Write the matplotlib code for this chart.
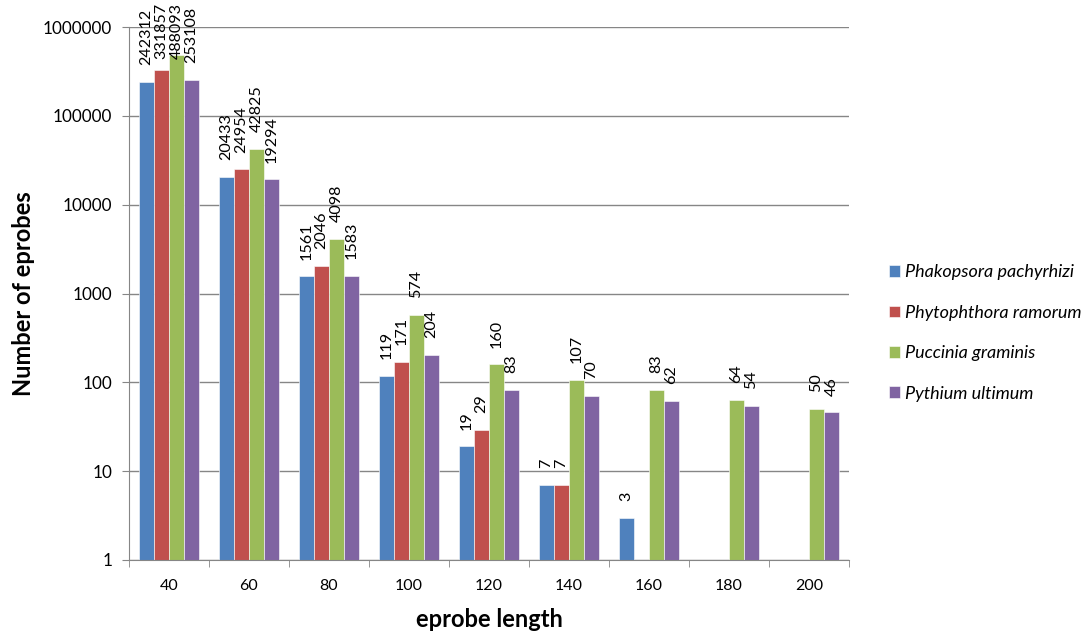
import matplotlib.pyplot as plt
import numpy as np
from matplotlib.ticker import FixedLocator, NullLocator, FuncFormatter

plt.rcParams['font.family'] = ['Lato', 'DejaVu Sans']

# eprobe counts per length, one list per organism (nan = no bar)
lengths = [40, 60, 80, 100, 120, 140, 160, 180, 200]
phakopsora = [242312, 20433, 1561, 119, 19, 7, 3, np.nan, np.nan]
phytophthora = [331857, 24954, 2046, 171, 29, 7, np.nan, np.nan, np.nan]
puccinia = [488093, 42825, 4098, 574, 160, 107, 83, 64, 50]
pythium = [253108, 19294, 1583, 204, 83, 70, 62, 54, 46]

names = ['Phakopsora pachyrhizi', 'Phytophthora ramorum', 'Puccinia graminis', 'Pythium ultimum']
series = [phakopsora, phytophthora, puccinia, pythium]
colors = ['#4F81BD', '#C0504D', '#9BBB59', '#8064A2']

W, H, DPI = 1089, 635, 100
fig = plt.figure(figsize=(W / DPI, H / DPI), dpi=DPI)
ax = fig.add_axes([129 / W, 1 - 560 / H, 720 / W, 533 / H])

x = np.arange(len(lengths))
w = 0.1875
off = 12  # label gap above bar, points
labels = []
for i, (vals, col, nm) in enumerate(zip(series, colors, names)):
    pos = x + (i - 1.5) * w
    v = np.array(vals, dtype=float)
    ax.bar(pos, v, width=w, color=col, edgecolor='white', linewidth=0.4, label=nm)
    for px, val in zip(pos, v):
        if np.isnan(val):
            continue
        t = ax.annotate(str(int(val)), (px, val), xytext=(0, off), textcoords='offset points',
                        rotation=90, ha='center', va='bottom', fontsize=11.6, annotation_clip=False)
        labels.append(t)

ax.set_yscale('log')
ax.set_ylim(1, 1e6)
ax.set_xlim(-0.5, len(lengths) - 0.5)
ax.yaxis.set_major_locator(FixedLocator([10 ** k for k in range(7)]))
ax.yaxis.set_minor_locator(NullLocator())
ax.yaxis.set_major_formatter(FuncFormatter(lambda v, p: '%d' % v))
ax.set_xticks(x)
ax.set_xticklabels([str(l) for l in lengths])
ax.set_xticks(np.arange(len(lengths) + 1) - 0.5, minor=True)
ax.tick_params(axis='x', which='major', length=0, pad=13.5, labelsize=11.5)
ax.tick_params(axis='x', which='minor', length=5, color='#868686', direction='out')
ax.tick_params(axis='y', length=5, color='#868686', direction='out', labelsize=12.3, pad=7)

ax.grid(axis='y', color='#868686', linewidth=1)
ax.set_axisbelow(True)
for s in ['top', 'right']:
    ax.spines[s].set_visible(False)
for s in ['left', 'bottom']:
    ax.spines[s].set_color('#868686')

ax.set_xlabel('eprobe length', fontsize=17, fontweight='bold', labelpad=11)
ax.set_ylabel('Number of eprobes', fontsize=17, fontweight='bold', labelpad=6)

ax.legend(loc='center left', bbox_to_anchor=(889 / W, 1 - 333 / H), bbox_transform=fig.transFigure,
          frameon=False, prop={'style': 'italic', 'size': 13}, handlelength=0.6, handleheight=0.6,
          labelspacing=1.35, handletextpad=0.3, borderpad=0, borderaxespad=0)

# push labels that run past the top edge back down inside the figure
fig.canvas.draw()
r = fig.canvas.get_renderer()
for t in labels:
    bb = t.get_window_extent(r)
    over = bb.y1 - (H - 3)
    if over > 0:
        t.xyann = (0, off - over * 72 / DPI)

fig.savefig('out.png', dpi=DPI)
